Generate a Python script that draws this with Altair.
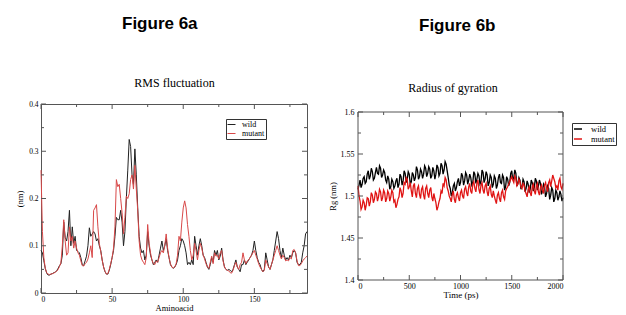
import altair as alt
import pandas as pd

# ---------------- data: Figure 6a (RMS fluctuation) ----------------
residue = list(range(0, 188))
wild_rmsf = [
    .090, .085, .068, .052, .042, .038, .038, .040, .041, .043,
    .044, .047, .052, .058, .062, .080, .150, .118, .110, .130,
    .175, .100, .140, .105, .120, .090, .088, .085, .075, .060,
    .058, .068, .078, .100, .138, .120, .125, .130, .125, .110,
    .115, .100, .090, .070, .055, .045, .040, .040, .048, .060,
    .075, .090, .120, .160, .155, .155, .175, .150, .100, .130,
    .200, .260, .325, .310, .250, .230, .305, .250, .180, .120,
    .095, .085, .090, .070, .080, .130, .100, .080, .070, .060,
    .065, .070, .065, .080, .095, .110, .090, .100, .115, .090,
    .075, .060, .055, .052, .055, .060, .070, .090, .100, .115,
    .110, .100, .085, .060, .065, .060, .070, .060, .120, .100,
    .080, .100, .115, .100, .080, .075, .065, .055, .050, .060,
    .075, .065, .090, .080, .090, .070, .078, .095, .070, .055,
    .050, .048, .050, .048, .045, .050, .060, .070, .055, .050,
    .045, .060, .060, .070, .060, .065, .070, .075, .080, .090,
    .110, .090, .075, .065, .060, .050, .045, .050, .085, .070,
    .055, .050, .060, .070, .090, .110, .130, .115, .090, .075,
    .095, .080, .070, .075, .070, .080, .075, .085, .090, .085,
    .065, .060, .060, .065, .085, .100, .125, .130,
]
mutant_rmsf = [
    .260, .130, .075, .052, .043, .040, .039, .040, .041, .042,
    .044, .046, .050, .056, .064, .100, .155, .110, .080, .085,
    .140, .110, .120, .095, .110, .095, .085, .080, .068, .058,
    .057, .062, .065, .072, .085, .100, .075, .175, .180, .187,
    .140, .105, .088, .070, .055, .046, .040, .041, .050, .062,
    .075, .095, .140, .240, .225, .230, .200, .170, .125, .160,
    .205, .200, .210, .240, .250, .220, .270, .220, .175, .110,
    .080, .070, .065, .060, .075, .145, .105, .085, .070, .062,
    .060, .068, .065, .075, .085, .090, .085, .100, .125, .095,
    .075, .062, .055, .053, .055, .062, .080, .120, .110, .150,
    .180, .195, .180, .145, .120, .090, .070, .080, .105, .090,
    .070, .090, .105, .095, .080, .072, .062, .055, .052, .065,
    .078, .062, .085, .078, .080, .072, .085, .090, .068, .055,
    .050, .048, .047, .043, .042, .048, .058, .065, .055, .050,
    .060, .065, .085, .070, .062, .068, .070, .075, .080, .085,
    .090, .080, .072, .062, .055, .050, .045, .048, .070, .062,
    .055, .050, .060, .070, .080, .090, .100, .090, .080, .072,
    .080, .075, .068, .070, .068, .075, .072, .090, .092, .085,
    .068, .058, .058, .062, .068, .072, .075, .078,
]

# ---------------- data: Figure 6b (Radius of gyration) ----------------
time_ps = list(range(0, 2001, 10))
wild_rg = [
    1.508, 1.513, 1.519, 1.510, 1.514, 1.521, 1.523, 1.515, 1.517, 1.526, 1.530, 1.520, 1.524, 1.533, 1.529, 1.519, 1.521, 1.528, 1.534, 1.527,
    1.526, 1.536, 1.533, 1.522, 1.525, 1.531, 1.528, 1.519, 1.516, 1.524, 1.520, 1.508, 1.511, 1.520, 1.517, 1.509, 1.512, 1.518, 1.521, 1.510,
    1.514, 1.526, 1.523, 1.513, 1.518, 1.530, 1.527, 1.516, 1.520, 1.529, 1.526, 1.514, 1.517, 1.528, 1.525, 1.518, 1.522, 1.535, 1.531, 1.520,
    1.523, 1.532, 1.529, 1.521, 1.526, 1.536, 1.533, 1.523, 1.527, 1.535, 1.532, 1.521, 1.524, 1.534, 1.530, 1.520, 1.526, 1.537, 1.534, 1.524,
    1.527, 1.539, 1.536, 1.526, 1.531, 1.541, 1.538, 1.530, 1.522, 1.513, 1.509, 1.500, 1.504, 1.512, 1.515, 1.506, 1.510, 1.517, 1.521, 1.512,
    1.516, 1.527, 1.524, 1.513, 1.518, 1.528, 1.525, 1.514, 1.519, 1.526, 1.522, 1.513, 1.516, 1.529, 1.526, 1.515, 1.520, 1.527, 1.524, 1.514,
    1.517, 1.531, 1.528, 1.516, 1.520, 1.529, 1.525, 1.512, 1.516, 1.525, 1.522, 1.510, 1.514, 1.524, 1.521, 1.509, 1.513, 1.522, 1.526, 1.516,
    1.515, 1.525, 1.522, 1.507, 1.511, 1.523, 1.520, 1.512, 1.516, 1.527, 1.530, 1.519, 1.522, 1.531, 1.527, 1.512, 1.515, 1.522, 1.519, 1.508,
    1.511, 1.520, 1.517, 1.505, 1.509, 1.518, 1.514, 1.504, 1.508, 1.519, 1.516, 1.506, 1.510, 1.521, 1.518, 1.507, 1.512, 1.519, 1.515, 1.502,
    1.506, 1.514, 1.511, 1.499, 1.503, 1.512, 1.509, 1.496, 1.501, 1.510, 1.507, 1.493, 1.497, 1.507, 1.504, 1.495, 1.499, 1.506, 1.502, 1.494,
    1.498,
]
mutant_rg = [
    1.512, 1.500, 1.494, 1.484, 1.487, 1.495, 1.492, 1.483, 1.489, 1.498, 1.497, 1.488, 1.493, 1.504, 1.501, 1.492, 1.496, 1.505, 1.503, 1.494,
    1.499, 1.508, 1.505, 1.494, 1.498, 1.507, 1.504, 1.493, 1.497, 1.506, 1.503, 1.494, 1.499, 1.507, 1.504, 1.493, 1.495, 1.486, 1.490, 1.496,
    1.499, 1.510, 1.506, 1.498, 1.503, 1.516, 1.514, 1.522, 1.520, 1.508, 1.511, 1.516, 1.506, 1.499, 1.512, 1.515, 1.503, 1.498, 1.509, 1.512,
    1.502, 1.497, 1.508, 1.511, 1.501, 1.496, 1.509, 1.512, 1.503, 1.498, 1.507, 1.510, 1.499, 1.494, 1.503, 1.497, 1.492, 1.483, 1.487, 1.493,
    1.497, 1.506, 1.503, 1.515, 1.512, 1.522, 1.519, 1.510, 1.506, 1.500, 1.497, 1.493, 1.502, 1.506, 1.496, 1.492, 1.501, 1.504, 1.498, 1.494,
    1.504, 1.507, 1.500, 1.497, 1.508, 1.511, 1.504, 1.500, 1.511, 1.515, 1.506, 1.503, 1.514, 1.517, 1.509, 1.505, 1.515, 1.519, 1.508, 1.503,
    1.513, 1.516, 1.507, 1.503, 1.512, 1.515, 1.505, 1.500, 1.509, 1.512, 1.502, 1.498, 1.506, 1.500, 1.495, 1.491, 1.501, 1.504, 1.497, 1.493,
    1.504, 1.507, 1.499, 1.496, 1.506, 1.509, 1.511, 1.514, 1.517, 1.520, 1.523, 1.519, 1.516, 1.524, 1.521, 1.512, 1.514, 1.520, 1.517, 1.511,
    1.509, 1.515, 1.513, 1.506, 1.503, 1.499, 1.508, 1.511, 1.504, 1.500, 1.511, 1.514, 1.506, 1.502, 1.512, 1.515, 1.505, 1.501, 1.510, 1.513,
    1.507, 1.503, 1.513, 1.516, 1.509, 1.505, 1.516, 1.519, 1.511, 1.518, 1.525, 1.521, 1.517, 1.510, 1.512, 1.507, 1.518, 1.521, 1.511, 1.508,
    1.515,
]

series_names = ["wild", "mutant"]

# tick positions
a_xmajor = [0, 50, 100, 150]
a_xminor = [25, 75, 125, 175]
a_ymajor = [0, 0.1, 0.2, 0.3, 0.4]
a_yminor = [0.05, 0.15, 0.25, 0.35]
b_xmajor = [0, 500, 1000, 1500, 2000]
b_xminor = [250, 750, 1250, 1750]
b_ymajor = [1.4, 1.45, 1.5, 1.55, 1.6]
b_yminor = [1.425, 1.475, 1.525, 1.575]

SERIF = "Liberation Serif"
SANS = "Liberation Sans"
TICK = "#555555"
FRAME = "#555555"

dfa = pd.DataFrame({
    "residue": residue * 2,
    "rmsf": wild_rmsf + mutant_rmsf,
    "series": ["wild"] * len(residue) + ["mutant"] * len(residue),
})
dfb = pd.DataFrame({
    "time": time_ps * 2,
    "rg": wild_rg + mutant_rg,
    "series": ["wild"] * len(time_ps) + ["mutant"] * len(time_ps),
})

ONE = pd.DataFrame({"k": [0]})


def tick_layers(xfield, yfield, xscale, yscale, xaxis, yaxis,
                xmaj, xmin, ymaj, ymin, W, H, top=0):
    layers = []
    for vals, ln in ((xmaj, 5), (xmin, 3)):
        d = pd.DataFrame({xfield: vals})
        X = alt.X(f"{xfield}:Q", scale=xscale, axis=xaxis)
        layers.append(alt.Chart(d).mark_rule(color=TICK, strokeWidth=1).encode(
            x=X, y=alt.value(H), y2=alt.value(H - ln)))
        layers.append(alt.Chart(d).mark_rule(color=TICK, strokeWidth=1).encode(
            x=X, y=alt.value(top), y2=alt.value(top + ln)))
    for vals, ln in ((ymaj, 5), (ymin, 3)):
        d = pd.DataFrame({yfield: vals})
        Y = alt.Y(f"{yfield}:Q", scale=yscale, axis=yaxis)
        layers.append(alt.Chart(d).mark_rule(color=TICK, strokeWidth=1).encode(
            y=Y, x=alt.value(0), x2=alt.value(ln)))
        layers.append(alt.Chart(d).mark_rule(color=TICK, strokeWidth=1).encode(
            y=Y, x=alt.value(W - ln), x2=alt.value(W)))
    return layers


def text_layer(txt, x, y, font, size, weight="normal", align="center"):
    return alt.Chart(ONE).mark_text(
        font=font, fontSize=size, fontWeight=weight, align=align,
        baseline="alphabetic", color="black").encode(
        x=alt.value(x), y=alt.value(y), text=alt.value(txt))


def frame_layers(W, top, bottom):
    r = lambda: alt.Chart(ONE).mark_rule(color=FRAME, strokeWidth=1)
    return [
        r().encode(x=alt.value(0), x2=alt.value(W), y=alt.value(top)),
        r().encode(x=alt.value(0), x2=alt.value(W), y=alt.value(bottom)),
        r().encode(x=alt.value(0), y=alt.value(top), y2=alt.value(bottom)),
        r().encode(x=alt.value(W), y=alt.value(top), y2=alt.value(bottom)),
    ]


# ---------------- panel a ----------------
WA, HA = 266, 189
xs_a = alt.Scale(domain=[0, 187], nice=False, zero=False)
ys_a = alt.Scale(domain=[0, 0.4], nice=False, zero=False)
xax_a = alt.Axis(values=a_xmajor, format="~f", title="Aminoacid", tickSize=0,
                 domain=False, grid=False, labelPadding=2, labelFont=SERIF,
                 labelFontSize=7.5, labelColor="black", titleFont=SERIF,
                 titleFontSize=8.5, titleFontWeight="normal", titleColor="black",
                 titlePadding=1)
yax_a = alt.Axis(values=a_ymajor, format="~f", title="(nm)", tickSize=0,
                 domain=False, grid=False, labelPadding=3, labelFont=SERIF,
                 labelFontSize=7.5, labelColor="black", titleFont=SERIF,
                 titleFontSize=8.5, titleFontWeight="normal", titleColor="black",
                 titlePadding=4)

lines_a = alt.Chart(dfa).mark_line(strokeWidth=1).encode(
    x=alt.X("residue:Q", scale=xs_a, axis=xax_a),
    y=alt.Y("rmsf:Q", scale=ys_a, axis=yax_a),
    color=alt.Color("series:N", sort=series_names,
                    scale=alt.Scale(domain=series_names, range=["#222222", "#d84848"]),
                    legend=alt.Legend(orient="none", legendX=185, legendY=15, title=None,
                                      symbolType="stroke", symbolSize=64,
                                      symbolStrokeWidth=1, strokeColor="#333333",
                                      fillColor="white", padding=1, rowPadding=0,
                                      labelFont=SERIF, labelFontSize=8,
                                      labelColor="black", labelOffset=6)),
)

anchor = alt.Chart(ONE).mark_rect(opacity=0).encode(
    x=alt.value(-40), x2=alt.value(-39), y=alt.value(-103), y2=alt.value(-102))

panel_a = alt.layer(
    lines_a,
    *tick_layers("residue", "rmsf", xs_a, ys_a, xax_a, yax_a,
                 a_xmajor, a_xminor, a_ymajor, a_yminor, WA, HA),
    text_layer("Figure 6a", 81, -75, SANS, 17, "bold", "left"),
    text_layer("Figure 6b", 378, -73, SANS, 17, "bold", "left"),
    text_layer("RMS fluctuation", 133.5, -17, SERIF, 12),
    text_layer("Radius of gyration", 412, -12, SERIF, 12),
    anchor,
).properties(width=WA, height=HA)

# ---------------- panel b ----------------
# plot frame spans 8 px below the panel top to the panel bottom
WB, HB, TOPB = 205, 176, 8
xs_b = alt.Scale(domain=[0, 2000], nice=False, zero=False)
ys_b = alt.Scale(domain=[1.4, 1.6], range=[HB, TOPB], nice=False, zero=False)
xax_b = alt.Axis(values=b_xmajor, format="~f", title="Time (ps)", tickSize=0,
                 domain=False, grid=False, labelPadding=2, labelFont=SERIF,
                 labelFontSize=8, labelColor="black", titleFont=SERIF,
                 titleFontSize=9, titleFontWeight="normal", titleColor="black",
                 titlePadding=0)
yax_b = alt.Axis(values=b_ymajor, format="~f", title="Rg (nm)", tickSize=0,
                 domain=False, grid=False, labelPadding=4, labelFont=SERIF,
                 labelFontSize=8, labelColor="black", titleFont=SERIF,
                 titleFontSize=8.5, titleFontWeight="normal", titleColor="black",
                 titlePadding=3)

lines_b = alt.Chart(dfb).mark_line(strokeWidth=1.3).encode(
    x=alt.X("time:Q", scale=xs_b, axis=xax_b),
    y=alt.Y("rg:Q", scale=ys_b, axis=yax_b),
    color=alt.Color("series:N", sort=series_names,
                    scale=alt.Scale(domain=series_names, range=["#000000", "#e01414"]),
                    legend=alt.Legend(orient="none", legendX=214, legendY=19, title=None,
                                      symbolType="stroke", symbolSize=64,
                                      symbolStrokeWidth=1.5, strokeColor="#333333",
                                      fillColor="white", padding=1, rowPadding=0,
                                      labelFont=SERIF, labelFontSize=8.5,
                                      labelColor="black", labelOffset=8)),
)

panel_b = alt.layer(
    lines_b,
    *tick_layers("time", "rg", xs_b, ys_b, xax_b, yax_b,
                 b_xmajor, b_xminor, b_ymajor, b_yminor, WB, HB, top=TOPB),
    *frame_layers(WB, TOPB, HB),
).properties(width=WB, height=HB, view=alt.ViewBackground(stroke=None))

chart = alt.hconcat(panel_a, panel_b, spacing=51, bounds="flush").resolve_scale(
    color="independent").resolve_legend(color="independent").properties(
    padding=0, autosize=alt.AutoSizeParams(type="pad"), background="white"
).configure_view(stroke=FRAME, strokeWidth=1)

chart.save("out.html", embed_options={"renderer": "svg", "actions": False})
